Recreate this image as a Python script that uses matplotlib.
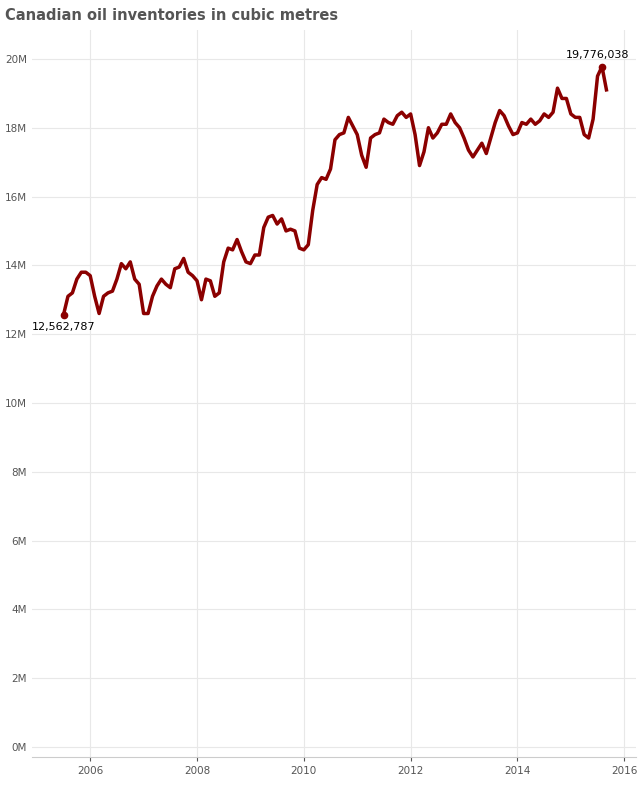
import matplotlib

matplotlib.use("Agg")
import matplotlib.pyplot as plt
import numpy as np
import pandas as pd

start_month = "2005-07"
inventory_m = [
    12.562787, 13.1, 13.2, 13.6, 13.8, 13.8,
    13.7, 13.1, 12.6, 13.1, 13.2, 13.25, 13.6, 14.05, 13.9, 14.1, 13.6, 13.45,
    12.6, 12.6, 13.1, 13.4, 13.6, 13.45, 13.35, 13.9, 13.95, 14.2, 13.8, 13.7,
    13.55, 13.0, 13.6, 13.55, 13.1, 13.2, 14.1, 14.5, 14.45, 14.75, 14.4, 14.1,
    14.05, 14.3, 14.3, 15.1, 15.4, 15.45, 15.2, 15.35, 15.0, 15.05, 15.0, 14.5,
    14.45, 14.6, 15.6, 16.35, 16.55, 16.5, 16.8, 17.65, 17.8, 17.85, 18.3, 18.05,
    17.8, 17.2, 16.85, 17.7, 17.8, 17.85, 18.25, 18.15, 18.1, 18.35, 18.45, 18.3,
    18.4, 17.8, 16.9, 17.3, 18.0, 17.7, 17.85, 18.1, 18.1, 18.4, 18.15, 18.0,
    17.7, 17.35, 17.15, 17.35, 17.55, 17.25, 17.7, 18.15, 18.5, 18.35, 18.05, 17.8,
    17.85, 18.15, 18.1, 18.25, 18.1, 18.2, 18.4, 18.3, 18.45, 19.15, 18.85, 18.85,
    18.4, 18.3, 18.3, 17.8, 17.7, 18.25, 19.5, 19.776038, 19.1,
]
yticks_m = [0, 2, 4, 6, 8, 10, 12, 14, 16, 18, 20]
xtick_years = [2006, 2008, 2010, 2012, 2014, 2016]

dates = pd.date_range(start_month, periods=len(inventory_m), freq="MS")
t = dates.year + (dates.month - 1) / 12.0
vals = np.array(inventory_m)

plt.rcParams["font.family"] = ["DejaVu Sans"]
fig = plt.figure(figsize=(6.42, 7.89), dpi=100)
ax = fig.add_axes([32 / 642, 1 - 757 / 789, 604 / 642, 727 / 789])

line_color = "#8b0000"
ax.plot(t, vals, color=line_color, lw=2.5, solid_joinstyle="round")
imax = int(np.argmax(vals))
ax.plot([t[0], t[imax]], [vals[0], vals[imax]], "o", color=line_color, ms=4.5)
ax.annotate(f"{vals[0] * 1e6:,.0f}", (t[0], vals[0]), xytext=(0, -5),
            textcoords="offset points", ha="center", va="top", fontsize=8)
ax.annotate(f"{vals[imax] * 1e6:,.0f}", (t[imax], vals[imax]), xytext=(-3, 5),
            textcoords="offset points", ha="center", va="bottom", fontsize=8)

ax.set_xlim(2004.91, 2016.22)
ax.set_ylim(-0.29, 20.84)
ax.set_yticks(yticks_m)
ax.set_yticklabels([f"{v}M" for v in yticks_m])
ax.set_xticks(xtick_years)
ax.set_xticklabels([str(y) for y in xtick_years])
ax.grid(color="#e8e8e8", lw=0.8)
ax.set_axisbelow(True)
for s in ["top", "right", "left"]:
    ax.spines[s].set_visible(False)
ax.spines["bottom"].set_color("#cccccc")
ax.tick_params(axis="both", labelsize=7.5, colors="#555555", length=3)
ax.tick_params(axis="y", length=0)

fig.text(5 / 642, 1 - 15 / 789, "Canadian oil inventories in cubic metres",
         fontsize=10.5, fontweight="bold", color="#555555", va="center")

fig.savefig("out.png", dpi=100)
plt.close(fig)
